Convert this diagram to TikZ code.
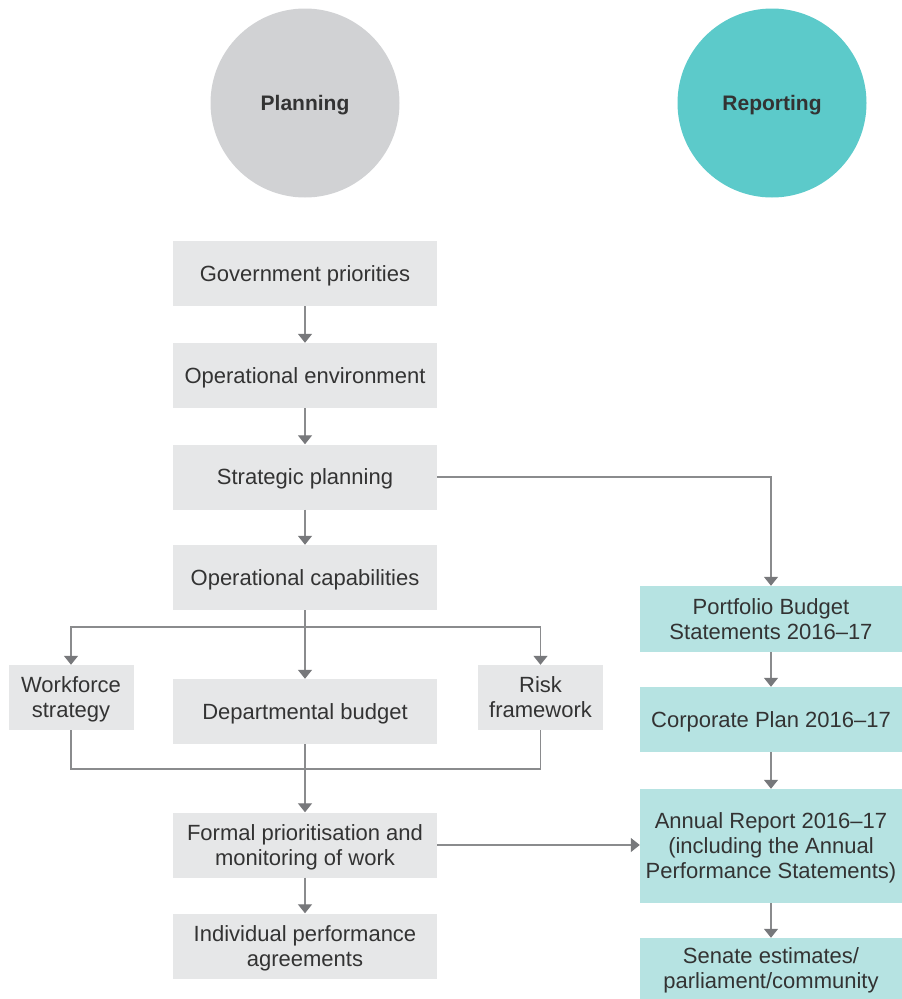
\documentclass[tikz,border=0pt]{standalone}
\usepackage{fontspec}
\setmainfont{Liberation Sans}
\usetikzlibrary{arrows.meta}
\definecolor{boxgray}{HTML}{E6E7E8}
\definecolor{circgray}{HTML}{D1D2D4}
\definecolor{teal}{HTML}{5CCACA}
\definecolor{lteal}{HTML}{B6E3E2}
\definecolor{linegray}{HTML}{8A8B8D}
\definecolor{tipgray}{HTML}{77787B}
\definecolor{txt}{HTML}{333333}
\tikzset{
  base/.style={font=\fontsize{22}{25}\selectfont, text=txt, align=center, inner sep=0pt, text depth=0pt},
  gbox/.style={base, fill=boxgray, minimum width=264pt, minimum height=65pt},
  sbox/.style={base, fill=boxgray, minimum width=125pt, minimum height=65pt},
  tbox/.style={base, fill=lteal, minimum width=262pt, minimum height=65pt},
  circ/.style={circle, minimum size=189pt, inner sep=0pt, text depth=0pt, font=\fontsize{21}{25}\selectfont\bfseries, text=txt},
  conn/.style={draw=linegray, line width=1.3pt},
  arr/.style={conn, -{Triangle[width=14pt,length=9pt,fill=tipgray,color=tipgray]}}
}
\begin{document}
\begin{tikzpicture}[x=1pt,y=-1pt]
\useasboundingbox (0,0) rectangle (902,999);
\node[circ, fill=circgray] (plan) at (305,103) {Planning};
\node[circ, fill=teal] (rep) at (772,103) {Reporting};

\node[gbox] (gp) at (305,273.5) {Government priorities};
\node[gbox] (oe) at (305,375.5) {Operational environment};
\node[gbox] (sp) at (305,477) {Strategic planning};
\node[gbox] (oc) at (305,577.5) {Operational capabilities};
\node[gbox] (db) at (305,711.5) {Departmental budget};
\node[gbox] (fp) at (305,845) {Formal prioritisation and\\monitoring of work};
\node[gbox] (ip) at (305,946) {Individual performance\\agreements};
\node[sbox] (ws) at (71,697.5) {Workforce\\strategy};
\node[sbox] (rf) at (540.5,697.5) {Risk\\framework};

\node[tbox, minimum height=66pt] (pb) at (771,619) {Portfolio Budget\\Statements 2016–17};
\node[tbox] (cp) at (771,719.5) {Corporate Plan 2016–17};
\node[tbox, minimum height=114pt] (ar) at (771,846) {Annual Report 2016–17\\(including the Annual\\Performance Statements)};
\node[tbox, minimum height=61pt] (se) at (771,968.5) {Senate estimates/\\parliament/community};

\coordinate (br) at (305,627);
\coordinate (jn) at (305,769);

\draw[arr] (gp) -- (oe);
\draw[arr] (oe) -- (sp);
\draw[arr] (sp) -- (oc);
\draw[arr] (sp.east) -| (pb.north);
\draw[arr] (oc.south) -- (db.north);
\draw[arr] (br) -| (ws.north);
\draw[arr] (br) -| (rf.north);
\draw[conn] (ws.south) |- (jn) -| (rf.south);
\draw[arr] (db.south) -- (fp.north);
\draw[arr] (fp) -- (ip);
\draw[arr] (fp.east) -- (fp.east -| ar.west);
\draw[arr] (pb) -- (cp);
\draw[arr] (cp) -- (ar);
\draw[arr] (ar) -- (se);
\end{tikzpicture}
\end{document}
